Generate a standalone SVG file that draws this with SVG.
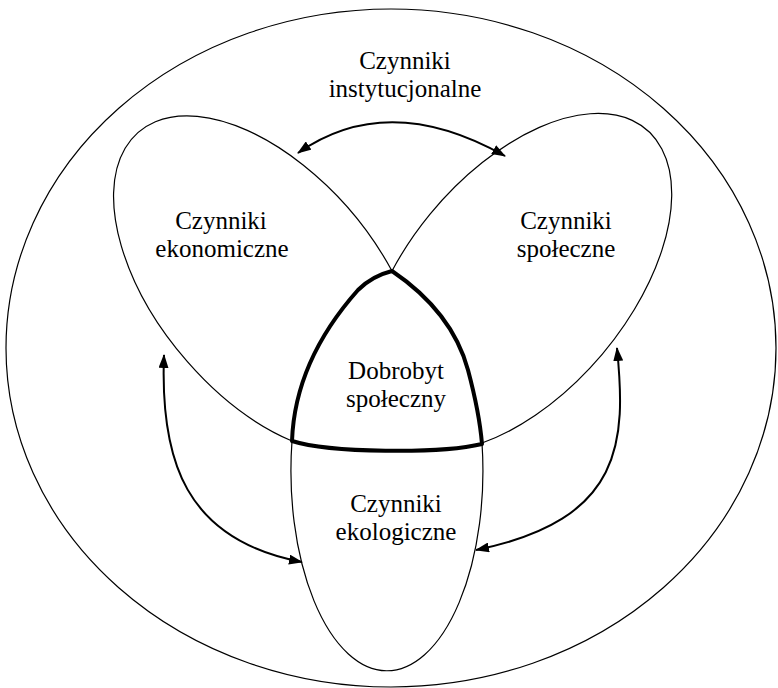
<svg xmlns="http://www.w3.org/2000/svg" width="778" height="688" viewBox="0 0 778 688">
<style>
.thin{fill:none;stroke:#000;stroke-width:1.2}
.thick{fill:#fff;stroke:#000;stroke-width:4;stroke-linejoin:round}
.arr{fill:none;stroke:#000;stroke-width:2}
text{font-family:"Liberation Serif","Times New Roman",serif;font-size:25px;fill:#000;text-anchor:middle}
</style>
<defs>
<marker id="ah" viewBox="0 0 14 10" refX="13" refY="5" markerWidth="14" markerHeight="10" markerUnits="userSpaceOnUse" orient="auto-start-reverse">
<path d="M0,0 L14,5 L0,10 z" fill="#000"/>
</marker>
</defs>
<rect width="778" height="688" fill="#fff"/>
<g id="outer">
<ellipse class="thin" cx="391" cy="348" rx="385" ry="339"/>
<text x="405" y="69">Czynniki</text>
<text x="405" y="97">instytucjonalne</text>
</g>
<g id="ekonomiczne">
<path class="thin" d="M392,271 A200 111 50 1 0 292,441"/>
<text x="221" y="229">Czynniki</text>
<text x="222" y="257">ekonomiczne</text>
</g>
<g id="spoleczne">
<path class="thin" d="M392,271 A200 111 -50 1 1 482,443"/>
<text x="566" y="229">Czynniki</text>
<text x="566" y="257">społeczne</text>
</g>
<g id="ekologiczne">
<path class="thin" d="M292,441 A96 200 0 1 0 482,443"/>
<text x="396" y="512">Czynniki</text>
<text x="396" y="540">ekologiczne</text>
</g>
<g id="dobrobyt">
<path class="thick" d="M292,441 C294,385 318,335 358,290 Q372,276 392,271 C420,290 455,322 468,370 C476,400 480,420 482,444 C440,454 330,453 292,441 Z"/>
<text x="396" y="379">Dobrobyt</text>
<text x="396" y="407">społeczny</text>
</g>
<g id="connectors">
<path class="arr" d="M298,153 Q388,90 505,156" marker-start="url(#ah)" marker-end="url(#ah)"/>
<path class="arr" d="M164,355 C160,460 185,540 302,562" marker-start="url(#ah)" marker-end="url(#ah)"/>
<path class="arr" d="M617,348 C626,440 625,520 476,550" marker-start="url(#ah)" marker-end="url(#ah)"/>
</g>
</svg>
